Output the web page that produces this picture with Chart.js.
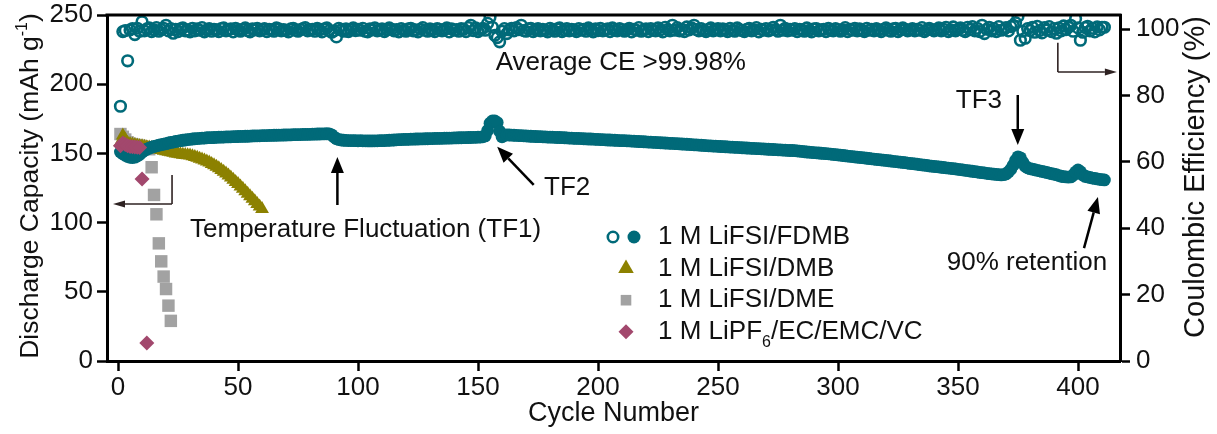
<!DOCTYPE html>
<html>
<head>
<meta charset="utf-8">
<script src="https://cdn.jsdelivr.net/npm/chart.js@4/dist/chart.umd.min.js"></script>
<style>
  html, body { margin: 0; padding: 0; background: #fff; }
  canvas { display: block; }
</style>
</head>
<body>
<canvas id="cycling" width="1217" height="434"></canvas>
<script>
// ---- data: discharge capacity (mAh/g) and coulombic efficiency (%) per cycle ----

// 1 M LiFSI/FDMB, discharge capacity, cycles 1..411
const fdmbCapacity = [
  151.0, 149.8, 148.6, 147.7, 147.2, 147.0, 147.3, 148.1, 149.3, 150.8,
  152.1, 153.0, 153.8, 154.5, 155.0, 155.5, 155.9, 156.3, 156.7, 157.0,
  157.5, 157.9, 158.2, 158.6, 158.9, 159.2, 159.5, 159.7, 160.0, 160.2,
  160.4, 160.6, 160.7, 160.9, 161.0, 161.1, 161.3, 161.4, 161.4, 161.5,
  161.6, 161.7, 161.7, 161.8, 161.9, 161.9, 162.0, 162.1, 162.1, 162.2,
  162.3, 162.3, 162.4, 162.4, 162.5, 162.6, 162.6, 162.7, 162.7, 162.8,
  162.9, 162.9, 163.0, 163.0, 163.1, 163.1, 163.2, 163.2, 163.3, 163.3,
  163.4, 163.4, 163.5, 163.5, 163.6, 163.6, 163.7, 163.7, 163.8, 163.8,
  163.9, 163.9, 164.0, 164.0, 164.1, 164.1, 164.2, 164.1, 163.4, 161.8,
  160.6, 160.0, 159.7, 159.5, 159.4, 159.3, 159.3, 159.2, 159.2, 159.1,
  159.2, 159.1, 159.1, 159.0, 159.0, 159.0, 159.1, 159.1, 159.2, 159.2,
  159.3, 159.4, 159.5, 159.6, 159.7, 159.8, 159.9, 160.0, 160.1, 160.1,
  160.2, 160.3, 160.3, 160.4, 160.4, 160.5, 160.5, 160.6, 160.6, 160.7,
  160.7, 160.8, 160.8, 160.9, 160.9, 161.0, 161.0, 161.1, 161.1, 161.2,
  161.2, 161.3, 161.3, 161.4, 161.4, 161.5, 161.5, 161.6, 161.6, 161.7,
  161.8, 162.0, 162.6, 166.5, 171.8, 173.4, 173.4, 172.3, 166.0, 162.0,
  163.2, 163.4, 163.3, 163.2, 163.1, 163.0, 162.9, 162.8, 162.7, 162.6,
  162.5, 162.4, 162.3, 162.2, 162.1, 162.1, 162.0, 161.9, 161.8, 161.7,
  161.7, 161.6, 161.5, 161.5, 161.4, 161.3, 161.2, 161.1, 161.0, 160.9,
  160.8, 160.8, 160.7, 160.6, 160.5, 160.4, 160.4, 160.3, 160.2, 160.1,
  160.0, 159.9, 159.8, 159.7, 159.7, 159.6, 159.5, 159.4, 159.3, 159.2,
  159.2, 159.1, 159.0, 158.9, 158.8, 158.7, 158.6, 158.5, 158.4, 158.3,
  158.2, 158.1, 158.0, 157.9, 157.8, 157.7, 157.6, 157.5, 157.4, 157.3,
  157.2, 157.1, 157.0, 156.9, 156.8, 156.7, 156.6, 156.5, 156.3, 156.2,
  156.1, 156.0, 155.9, 155.8, 155.6, 155.5, 155.4, 155.3, 155.2, 155.1,
  155.0, 154.9, 154.8, 154.7, 154.6, 154.5, 154.4, 154.3, 154.2, 154.1,
  154.0, 153.9, 153.8, 153.7, 153.6, 153.5, 153.4, 153.3, 153.2, 153.1,
  153.0, 152.9, 152.8, 152.7, 152.6, 152.5, 152.4, 152.3, 152.2, 152.1,
  152.1, 152.0, 151.8, 151.6, 151.4, 151.2, 151.0, 150.9, 150.7, 150.5,
  150.4, 150.3, 150.1, 150.0, 149.8, 149.7, 149.5, 149.3, 149.1, 148.9,
  148.7, 148.5, 148.3, 148.1, 147.9, 147.7, 147.5, 147.3, 147.1, 146.9,
  146.7, 146.5, 146.3, 146.1, 145.9, 145.7, 145.5, 145.3, 145.1, 144.9,
  144.7, 144.5, 144.3, 144.1, 143.9, 143.7, 143.5, 143.3, 143.0, 142.8,
  142.6, 142.4, 142.2, 141.9, 141.7, 141.5, 141.3, 141.0, 140.8, 140.6,
  140.4, 140.2, 140.0, 139.8, 139.6, 139.4, 139.2, 139.0, 138.8, 138.5,
  138.3, 138.1, 137.8, 137.6, 137.3, 137.1, 136.8, 136.6, 136.3, 136.1,
  135.9, 135.6, 135.4, 135.2, 135.0, 134.8, 134.6, 134.5, 134.6, 135.2,
  136.5, 138.5, 141.5, 145.0, 147.5, 146.8, 143.5, 140.8, 139.6, 139.0,
  138.6, 138.2, 137.8, 137.4, 137.0, 136.6, 136.2, 135.8, 135.4, 135.0,
  134.6, 134.0, 133.5, 133.2, 133.0, 132.9, 133.0, 134.2, 136.5, 138.0,
  136.8, 134.5, 133.4, 133.0, 132.6, 132.2, 131.9, 131.6, 131.3, 131.0, 130.8
];

// 1 M LiFSI/FDMB, coulombic efficiency, cycles 1..411
const fdmbEfficiency = [
  76.8, 99.3, 99.6, 90.5, 99.8, 100.2, 98.4, 100.3, 99.4, 102.3,
  99.5, 100.1, 100.4, 99.3, 99.8, 100.5, 99.4, 99.9, 100.3, 101.2,
  99.5, 100.2, 98.8, 100.0, 99.3, 100.1, 100.4, 99.5, 99.8, 99.2,
  100.3, 99.5, 100.1, 99.7, 100.5, 99.2, 99.8, 100.2, 99.4, 100.0,
  99.8, 99.3, 100.2, 100.4, 99.5, 99.8, 100.1, 99.2, 100.3, 99.7,
  99.4, 100.0, 100.4, 99.6, 99.2, 100.1, 99.8, 100.3, 99.5, 99.9,
  100.2, 99.3, 100.0, 99.8, 99.4, 100.4, 100.1, 99.5, 99.9, 99.7,
  99.2, 100.1, 100.3, 99.7, 99.4, 99.9, 100.2, 100.5, 99.5, 99.8,
  100.0, 99.4, 100.3, 99.8, 99.2, 100.1, 100.4, 99.6, 99.1, 99.5,
  97.7, 100.3, 99.8, 99.4, 100.1, 99.3, 99.9, 100.4, 99.6, 100.0,
  99.7, 100.3, 99.4, 99.2, 100.1, 99.8, 100.4, 99.5, 99.8, 100.1,
  99.3, 99.8, 100.4, 100.0, 99.5, 99.9, 99.2, 100.2, 99.7, 99.4,
  100.1, 100.3, 99.5, 99.8, 99.2, 100.0, 100.5, 99.7, 99.4, 100.1,
  99.8, 99.3, 100.2, 100.0, 99.5, 99.8, 100.4, 99.2, 100.1, 99.7,
  99.9, 99.4, 100.2, 100.0, 99.3, 100.5, 101.2, 99.6, 100.4, 99.3,
  99.9, 100.3, 99.7, 101.8, 103.7, 100.6, 98.2, 97.5, 96.2, 99.4,
  100.2, 98.7, 99.8, 100.3, 99.5, 100.5, 99.9, 101.2, 99.6, 99.4,
  100.1, 100.3, 99.3, 99.8, 100.2, 99.5, 100.0, 99.7, 99.2, 100.3,
  99.8, 99.4, 100.1, 100.4, 99.3, 99.7, 100.2, 99.5, 100.0, 99.8,
  99.3, 100.2, 99.7, 100.0, 99.4, 100.4, 99.8, 99.2, 100.1, 99.6,
  100.3, 99.5, 99.8, 100.1, 99.3, 100.4, 99.7, 99.5, 100.2, 99.9,
  99.4, 99.8, 100.3, 99.2, 100.0, 99.7, 100.5, 99.4, 99.8, 100.1,
  99.3, 100.2, 99.7, 99.5, 100.4, 99.8, 99.2, 100.6, 99.9, 99.5,
  101.2, 99.7, 100.5, 99.5, 100.0, 99.3, 100.7, 99.8, 100.4, 101.2,
  99.9, 99.5, 100.2, 99.7, 99.3, 100.0, 100.4, 99.5, 99.8, 100.2,
  99.5, 100.1, 99.8, 99.3, 100.3, 99.7, 99.4, 100.4, 99.9, 99.6,
  99.3, 100.0, 100.3, 99.5, 99.8, 100.5, 99.2, 100.0, 99.7, 100.2,
  99.5, 99.8, 100.6, 99.9, 99.4, 101.2, 99.7, 100.3, 99.5, 100.0,
  99.7, 100.2, 99.3, 100.0, 99.8, 99.4, 100.4, 99.7, 99.2, 100.1,
  100.2, 99.5, 99.8, 100.0, 99.3, 100.3, 99.7, 99.5, 100.2, 99.9,
  99.4, 99.8, 100.5, 99.3, 100.0, 99.7, 100.3, 99.5, 100.1, 99.7,
  99.3, 100.3, 99.7, 100.0, 99.5, 100.2, 99.8, 99.3, 100.0, 100.4,
  99.7, 99.4, 100.1, 100.3, 99.3, 99.8, 100.4, 100.0, 99.5, 99.8,
  100.2, 99.5, 100.0, 99.7, 100.5, 99.3, 99.8, 100.3, 99.9, 99.5,
  99.8, 100.4, 99.5, 100.0, 100.6, 99.3, 99.8, 100.7, 99.5, 100.0,
  100.4, 99.7, 99.3, 100.6, 99.9, 100.8, 99.5, 100.3, 99.3, 101.2,
  98.7, 100.0, 100.6, 99.5, 100.2, 99.3, 100.8, 99.7, 99.9, 100.5,
  99.5, 100.8, 101.2, 102.0, 103.9, 96.7, 99.4, 97.3, 100.2, 99.6,
  100.6, 99.1, 100.9, 99.6, 98.9, 100.5, 99.8, 100.8, 99.3, 100.2,
  98.8, 100.4, 99.5, 101.0, 99.9, 100.6, 101.2, 99.4, 103.2, 100.4,
  96.7, 99.1, 100.5, 100.9, 99.5, 100.3, 99.2, 100.7, 99.8, 100.6, 100.6
];

// 1 M LiFSI/DMB, discharge capacity, cycles 1..60
const dmbCapacity = [
  158.0, 163.0, 160.0, 157.5, 156.8, 156.4, 156.0, 155.7, 155.4, 155.1,
  154.8, 154.5, 154.2, 153.9, 153.6, 153.2, 152.8, 152.4, 152.0, 151.6,
  151.2, 150.8, 150.4, 150.0, 149.7, 149.4, 149.1, 148.9, 148.7, 148.5,
  148.0, 147.4, 146.8, 146.2, 145.6, 144.9, 144.2, 143.4, 142.4, 141.4,
  140.3, 139.2, 138.0, 136.8, 135.5, 134.1, 132.6, 131.0, 129.4, 127.8,
  126.1, 124.4, 122.6, 120.8, 119.0, 117.2, 115.4, 113.5, 111.6, 109.8
];

// 1 M LiFSI/DME, discharge capacity, cycles 1..22
const dmeCapacity = [
  164.0, 162.0, 160.0, 158.0, 157.0, 156.5, 156.0, 156.0, 155.5, 155.0,
  154.5, 154.0, 153.0, 140.0, 120.0, 106.0, 85.0, 72.0, 61.0, 52.0,
  40.0, 29.0
];

// 1 M LiPF6/EC/EMC/VC, cycle numbers and discharge capacity
const lipf6Cycles = [1, 2, 3, 4, 5, 6, 7, 8, 9, 10, 12];
const lipf6Capacity = [155.5, 157.5, 156.5, 155.5, 155.0, 154.8, 154.6, 154.4, 154.3, 131.5, 13.0];

// axis ticks
const cycleTicks = [0, 50, 100, 150, 200, 250, 300, 350, 400];
const capacityTicks = [0, 50, 100, 150, 200, 250];
const efficiencyTicks = [0, 20, 40, 60, 80, 100];

// legend entries (text parts: [normal, subscript, normal])
const legendLabels = [
  ['1 M LiFSI/FDMB'],
  ['1 M LiFSI/DMB'],
  ['1 M LiFSI/DME'],
  ['1 M LiPF', '6', '/EC/EMC/VC']
];

// ---- styling ----
const TEAL = '#006a79';
const OLIVE = '#8c8100';
const GREY = '#a2a2a2';
const PLUM = '#a2486d';
const INK = '#111111';
const FONT = '"Liberation Sans", Arial, Helvetica, sans-serif';

const cyclesFrom1 = n => Array.from({ length: n }, (_, i) => i + 1);
const pairs = (xs, ys) => ys.map((y, i) => ({ x: xs[i], y }));

const fdmbCycles = cyclesFrom1(fdmbCapacity.length);

const datasets = [
  {
    label: '1 M LiPF6/EC/EMC/VC',
    data: pairs(lipf6Cycles, lipf6Capacity),
    yAxisID: 'yCap', order: 0,
    pointStyle: 'rectRot', pointRadius: 7.5, pointBorderWidth: 0,
    backgroundColor: PLUM, borderColor: PLUM
  },
  {
    label: '1 M LiFSI/FDMB CE',
    data: pairs(fdmbCycles, fdmbEfficiency),
    yAxisID: 'yCE', order: 1,
    pointStyle: 'circle', pointRadius: 5.3, pointBorderWidth: 2.6,
    backgroundColor: 'rgba(0,0,0,0)', borderColor: TEAL
  },
  {
    label: '1 M LiFSI/FDMB',
    data: pairs(fdmbCycles, fdmbCapacity),
    yAxisID: 'yCap', order: 1,
    pointStyle: 'circle', pointRadius: 6.4, pointBorderWidth: 0,
    backgroundColor: TEAL, borderColor: TEAL
  },
  {
    label: '1 M LiFSI/DMB',
    data: pairs(cyclesFrom1(dmbCapacity.length), dmbCapacity),
    yAxisID: 'yCap', order: 2,
    pointStyle: 'triangle', pointRadius: 8, pointBorderWidth: 0,
    backgroundColor: OLIVE, borderColor: OLIVE
  },
  {
    label: '1 M LiFSI/DME',
    data: pairs(cyclesFrom1(dmeCapacity.length), dmeCapacity),
    yAxisID: 'yCap', order: 3,
    pointStyle: 'rect', pointRadius: 8.8, pointBorderWidth: 0,
    backgroundColor: GREY, borderColor: GREY
  }
];

const axisLook = {
  grid: { display: true, drawOnChartArea: false, drawTicks: true, tickLength: 10, tickWidth: 2.5, color: '#000' },
  border: { display: true, width: 3, color: '#000' }
};

const fixedTicks = values => scale => { scale.ticks = values.map(v => ({ value: v })); };

// ---- drawing helpers ----
function measureParts(ctx, parts, x, size, align) {
  // parts alternate: normal text, small (sub/superscript) text, normal text ...
  const segs = parts.map((t, i) => ({ t, small: i % 2 === 1 }));
  const widths = segs.map(s => {
    ctx.font = `${s.small ? Math.round(size * 0.62) : size}px ${FONT}`;
    return ctx.measureText(s.t).width;
  });
  const total = widths.reduce((a, b) => a + b, 0);
  const start = align === 'center' ? x - total / 2 : x;
  return { segs, widths, start, total };
}

function drawSegments(ctx, parts, x, y, size, align, shift) {
  const m = measureParts(ctx, parts, x, size, align);
  let cx = m.start;
  ctx.textAlign = 'left';
  m.segs.forEach((s, i) => {
    ctx.font = `${s.small ? Math.round(size * 0.62) : size}px ${FONT}`;
    ctx.fillText(s.t, cx, s.small ? y + shift : y);
    cx += m.widths[i];
  });
}

function arrow(ctx, x1, y1, x2, y2, lw, headLen, headHalf, color) {
  const a = Math.atan2(y2 - y1, x2 - x1);
  const bx = x2 - headLen * Math.cos(a);
  const by = y2 - headLen * Math.sin(a);
  ctx.strokeStyle = color;
  ctx.fillStyle = color;
  ctx.lineWidth = lw;
  ctx.beginPath();
  ctx.moveTo(x1, y1);
  ctx.lineTo(bx, by);
  ctx.stroke();
  ctx.beginPath();
  ctx.moveTo(x2, y2);
  ctx.lineTo(bx + headHalf * Math.sin(a), by - headHalf * Math.cos(a));
  ctx.lineTo(bx - headHalf * Math.sin(a), by + headHalf * Math.cos(a));
  ctx.closePath();
  ctx.fill();
}

function marker(ctx, style, x, y, r, fill, stroke, lw) {
  ctx.beginPath();
  if (style === 'circle') {
    ctx.arc(x, y, r, 0, Math.PI * 2);
  } else if (style === 'triangle') {
    const h = r * Math.sqrt(3) / 2;
    ctx.moveTo(x, y - r);
    ctx.lineTo(x + h, y + r / 2);
    ctx.lineTo(x - h, y + r / 2);
    ctx.closePath();
  } else if (style === 'rect') {
    const s = r * Math.SQRT1_2;
    ctx.rect(x - s, y - s, 2 * s, 2 * s);
  } else if (style === 'rectRot') {
    ctx.moveTo(x, y - r);
    ctx.lineTo(x + r, y);
    ctx.lineTo(x, y + r);
    ctx.lineTo(x - r, y);
    ctx.closePath();
  }
  if (fill) { ctx.fillStyle = fill; ctx.fill(); }
  if (stroke) { ctx.strokeStyle = stroke; ctx.lineWidth = lw; ctx.stroke(); }
}

// frame, titles, legend and annotations
const decorations = {
  id: 'decorations',
  afterDraw(chart) {
    const { ctx, chartArea: a } = chart;
    const { x, yCap, yCE } = chart.scales;
    const X = v => x.getPixelForValue(v);
    const YC = v => yCap.getPixelForValue(v);
    const YE = v => yCE.getPixelForValue(v);

    ctx.save();

    // top edge of the frame
    ctx.strokeStyle = '#000';
    ctx.lineWidth = 3;
    ctx.beginPath();
    ctx.moveTo(a.left - 1.5, a.top);
    ctx.lineTo(a.right + 1.5, a.top);
    ctx.stroke();

    ctx.fillStyle = INK;
    ctx.textBaseline = 'middle';

    // left axis title, with superscript
    ctx.save();
    ctx.translate(31, 186);
    ctx.rotate(-Math.PI / 2);
    drawSegments(ctx, ['Discharge Capacity (mAh g', '-1', ')'], 0, 0, 26.5, 'center', -8);
    ctx.restore();

    // right axis title, reading bottom to top
    ctx.save();
    ctx.translate(1196, 177);
    ctx.rotate(-Math.PI / 2);
    ctx.font = `29px ${FONT}`;
    ctx.textAlign = 'center';
    ctx.fillText('Coulombic Efficiency (%)', 0, 0);
    ctx.restore();

    // bottom axis title
    ctx.font = `27px ${FONT}`;
    ctx.textAlign = 'center';
    ctx.fillText('Cycle Number', (a.left + a.right) / 2, 414);

    // annotation texts
    ctx.font = `26px ${FONT}`;
    ctx.textAlign = 'center';
    ctx.fillText('Average CE >99.98%', X(209.5), YE(89.9));
    ctx.fillText('TF3', X(358.7), YC(187.9));
    ctx.textAlign = 'left';
    ctx.fillText('Temperature Fluctuation (TF1)', X(30), YC(94.7));
    ctx.fillText('TF2', X(177.5), YC(125));
    ctx.fillText('90% retention', X(345.3), YC(70.8));

    // event arrows
    arrow(ctx, X(91.4), YC(112.7), X(91.4), YC(147.4), 2.5, 16, 6.5, '#000');
    arrow(ctx, X(173.2), YC(127.2), X(158), YC(154.8), 2.5, 16, 6.5, '#000');
    arrow(ctx, X(374.9), YC(192.2), X(374.9), YC(156.1), 2.5, 16, 6.5, '#000');
    arrow(ctx, X(402.5), YC(81.6), X(408.3), YC(118.5), 2.5, 16, 6.5, '#000');

    // axis pointers (which series belongs to which axis)
    const pointer = '#2e2222';
    ctx.strokeStyle = pointer;
    ctx.lineWidth = 1.6;
    ctx.beginPath();
    ctx.moveTo(X(22.5), YC(134.4));
    ctx.lineTo(X(22.5), YC(113.4));
    ctx.stroke();
    arrow(ctx, X(22.5), YC(113.4), X(-2.1), YC(113.4), 1.6, 12, 3.5, pointer);
    ctx.beginPath();
    ctx.moveTo(X(391.6), YE(95.9));
    ctx.lineTo(X(391.6), YE(87.1));
    ctx.stroke();
    arrow(ctx, X(391.6), YE(87.1), X(416.2), YE(87.1), 1.6, 12, 3.5, pointer);

    // legend
    const lx = 626, ly = 237, gap = 31.6, tx = 658;
    marker(ctx, 'circle', 613, ly, 5.2, null, TEAL, 2.6);
    marker(ctx, 'circle', 634, ly, 6.5, TEAL, null, 0);
    marker(ctx, 'triangle', lx, ly + gap, 9, OLIVE, null, 0);
    marker(ctx, 'rect', lx, ly + 2 * gap, 7.5, GREY, null, 0);
    marker(ctx, 'rectRot', lx, ly + 3 * gap, 7.5, PLUM, null, 0);
    ctx.fillStyle = INK;
    ctx.textBaseline = 'middle';
    legendLabels.forEach((parts, i) => {
      drawSegments(ctx, parts, tx, ly + i * gap, 26, 'left', 11);
    });

    ctx.restore();
  }
};

// keep the plot frame fixed: no extra room reserved for end labels
const fixVertical = width => s => { s.width = width; s.paddingTop = 0; s.paddingBottom = 0; };

new Chart(document.getElementById('cycling'), {
  type: 'scatter',
  data: { datasets },
  options: {
    responsive: false,
    maintainAspectRatio: false,
    devicePixelRatio: 1,
    animation: false,
    layout: { padding: { top: 15, left: 0, right: 0, bottom: 0 } },
    plugins: { legend: { display: false }, tooltip: { enabled: false } },
    scales: {
      x: {
        type: 'linear', position: 'bottom', min: -4.6, max: 417.5,
        afterBuildTicks: fixedTicks(cycleTicks),
        afterFit: s => { s.height = 73; s.paddingLeft = 0; s.paddingRight = 0; },
        ...axisLook,
        ticks: { color: INK, font: { family: FONT, size: 26 }, padding: 1, maxRotation: 0, autoSkip: false }
      },
      yCap: {
        type: 'linear', position: 'left', min: 0, max: 250,
        afterBuildTicks: fixedTicks(capacityTicks),
        afterFit: fixVertical(107),
        ...axisLook,
        ticks: { color: INK, font: { family: FONT, size: 26 }, padding: 4, autoSkip: false }
      },
      yCE: {
        type: 'linear', position: 'right', min: 0, max: 104.3,
        afterBuildTicks: fixedTicks(efficiencyTicks),
        afterFit: fixVertical(97),
        ...axisLook,
        ticks: { color: INK, font: { family: FONT, size: 26 }, padding: 6, autoSkip: false }
      }
    }
  },
  plugins: [decorations]
});
</script>
</body>
</html>
